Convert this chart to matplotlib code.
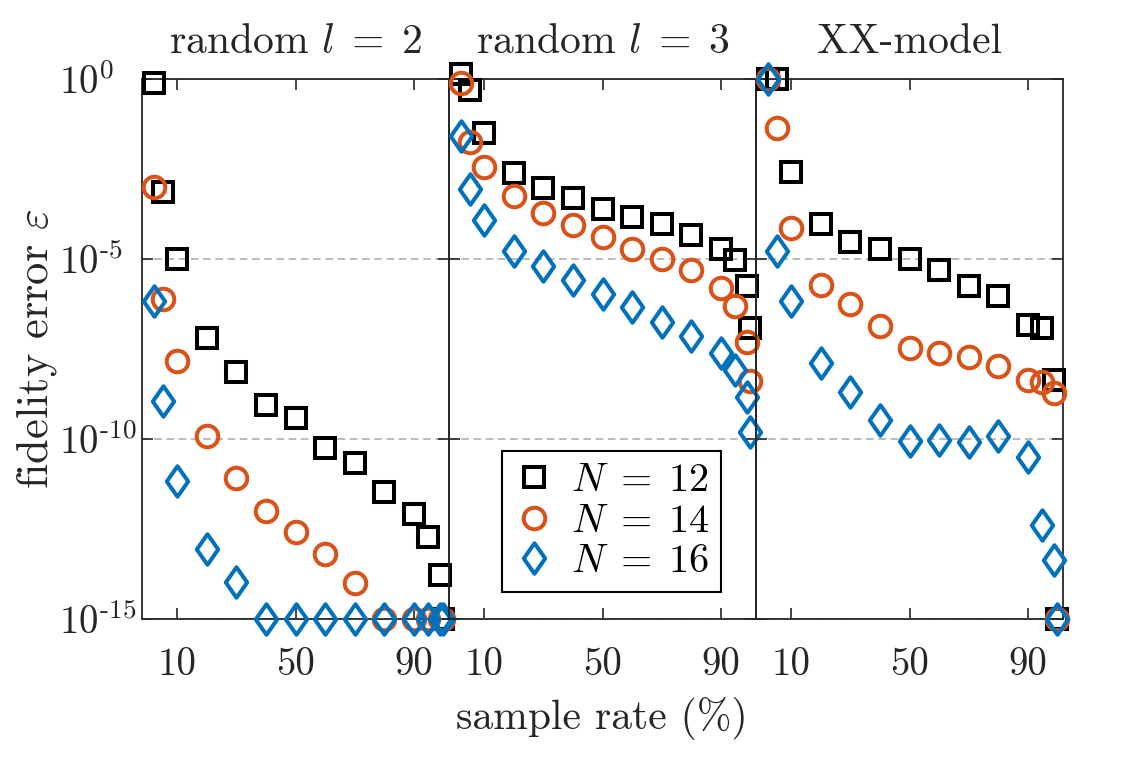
import numpy as np
import matplotlib
matplotlib.use('Agg')
import matplotlib.pyplot as plt
from matplotlib.ticker import NullLocator
from matplotlib.path import Path

plt.rcParams['font.family'] = 'cmr10'
plt.rcParams['mathtext.fontset'] = 'cm'
plt.rcParams['axes.unicode_minus'] = False
plt.rcParams['axes.formatter.use_mathtext'] = True

# sample rate in percent
sample_rate = [2, 5, 10, 20, 30, 40, 50, 60, 70, 80, 90, 95, 99, 100]

panel_titles = [r'random $l\;=\;2$', r'random $l\;=\;3$', 'XX-model']
legend_labels = [r'$N\;=\;12$', r'$N\;=\;14$', r'$N\;=\;16$']

# log10 of the fidelity error
l2_n12 = [-0.1, -3.14, -4.99, -7.2, -8.14, -9.05, -9.42, -10.24, -10.68, -11.47, -12.07, -12.71, -13.77, -15]
l2_n14 = [-3.01, -6.1, -7.82, -9.93, -11.09, -12.0, -12.58, -13.2, -13.99, -15, -15, -15, -15, -15]
l2_n16 = [-6.17, -8.95, -11.16, -13.05, -13.97, -15, -15, -15, -15, -15, -15, -15, -15, -15]

l3_n12 = [0.14, -0.31, -1.51, -2.62, -3.04, -3.31, -3.61, -3.82, -4.03, -4.33, -4.73, -5.03, -5.75, -6.93]
l3_n14 = [-0.1, -1.74, -2.45, -3.25, -3.71, -4.05, -4.38, -4.72, -5.0, -5.31, -5.8, -6.31, -7.31, -8.39]
l3_n16 = [-1.58, -3.06, -3.92, -4.78, -5.19, -5.58, -5.97, -6.34, -6.74, -7.14, -7.62, -8.08, -8.82, -9.81]

xx_n12 = [0, 0, -2.58, -4.02, -4.53, -4.71, -4.99, -5.31, -5.74, -6.02, -6.84, -6.93, -8.36, -15]
xx_n14 = [0, -1.37, -4.15, -5.71, -6.24, -6.85, -7.46, -7.61, -7.71, -7.98, -8.36, -8.41, -8.72, -15]
xx_n16 = [0, -4.79, -6.17, -7.88, -8.69, -9.47, -10.06, -10.04, -10.09, -9.92, -10.5, -12.4, -13.35, -15]

panels = [[l2_n12, l2_n14, l2_n16],
          [l3_n12, l3_n14, l3_n16],
          [xx_n12, xx_n14, xx_n16]]

colors = ['#000000', '#D95319', '#0072BD']
diamond = Path([(0, 1), (0.7, 0), (0, -1), (-0.7, 0), (0, 1)], closed=True)
markers = ['s', 'o', diamond]
msizes = [14.5, 15.5, 22]

axis_col = '#262626'

fig = plt.figure(figsize=(11.42, 7.75), dpi=100)
left0 = 142 / 1142
w = 307 / 1142
bottom = 1 - 619 / 775
h = 540 / 775

axes = []
for i in range(3):
    ax = fig.add_axes([left0 + i * w, bottom, w, h])
    ax.set_facecolor('none')
    for k in range(3):
        ax.plot(sample_rate, 10.0 ** np.array(panels[i][k]), linestyle='none',
                marker=markers[k], ms=msizes[k], mfc='none', mec=colors[k],
                mew=2.9, clip_on=False, label=legend_labels[k], zorder=3 + k)
    ax.set_yscale('log')
    ax.set_ylim(1e-15, 1)
    ax.set_xlim(-2, 102)
    ax.set_xticks([10, 50, 90])
    ax.set_xticklabels(['10', '50', '90'])
    ax.set_yticks([1e-15, 1e-10, 1e-5, 1])
    ax.yaxis.set_minor_locator(NullLocator())
    ax.grid(axis='y', color='#a8a8a8', linestyle=(0, (5, 3)), linewidth=1.1)
    ax.tick_params(direction='in', top=True, right=True, length=8, width=1.2,
                   color=axis_col, labelcolor=axis_col, labelsize=28)
    ax.tick_params(axis='x', pad=20)
    if i == 0:
        ax.set_yticklabels([r'$10^{\text{-}15}$', r'$10^{\text{-}10}$',
                            r'$10^{\text{-}5}$', r'$10^{0}$'])
        ax.tick_params(axis='y', pad=60)
        for lab in ax.get_yticklabels():
            lab.set_horizontalalignment('left')
    else:
        ax.set_yticklabels([])
    for s in ax.spines.values():
        s.set_color(axis_col)
        s.set_linewidth(1.3)
    ax.set_title(panel_titles[i], fontsize=30, pad=19, color=axis_col)
    axes.append(ax)

leg = axes[1].legend(loc='lower left', bbox_to_anchor=(0.173, 0.05), borderaxespad=0,
                     fontsize=29, frameon=True, fancybox=False, framealpha=1,
                     edgecolor='black', handlelength=1.0, handletextpad=0.4,
                     labelspacing=0.1, borderpad=0.3)
leg.get_frame().set_linewidth(1.5)

fig.text(0.527, 1 - 718 / 775, 'sample rate (%)', ha='center', va='center',
         fontsize=30, color=axis_col)
fig.text(37 / 1142, 1 - 349 / 775, r'fidelity error $\varepsilon$', ha='center',
         va='center', rotation=90, fontsize=32, color=axis_col)

fig.savefig('out.png', dpi=100, facecolor='white')
